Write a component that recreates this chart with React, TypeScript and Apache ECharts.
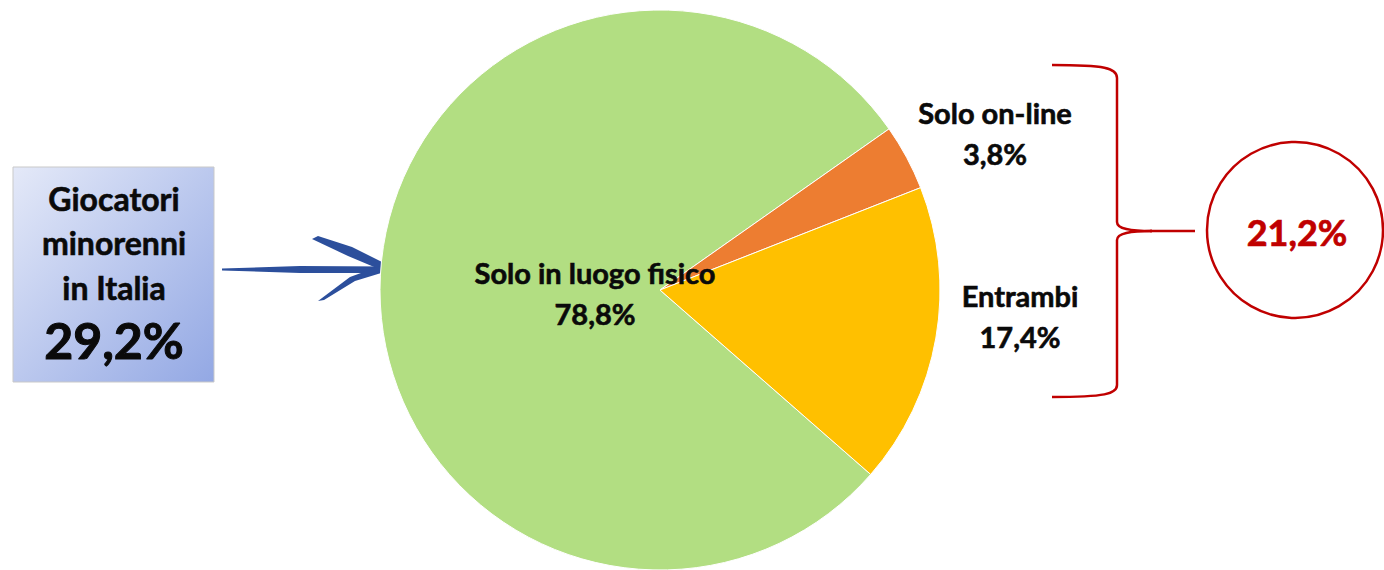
import React, { useEffect, useRef } from "react";
import * as echarts from "echarts";

// Data
const categories = ["Solo in luogo fisico", "Solo on-line", "Entrambi"];
const values = [78.8, 3.8, 17.4];
const sliceColors = ["#b2de82", "#ed7d31", "#ffc000"];
const boxLines = ["Giocatori", "minorenni", "in Italia"];
const boxValue = "29,2%";
const onlineTotal = "21,2%";

const FONT = "Lato, 'Open Sans', sans-serif";
// label block centres, one per category
const labelPos = [
  [595, 293],
  [995, 133],
  [1020, 316],
];

const fmt = (v: number) => v.toFixed(1).replace(".", ",") + "%";

export default function App() {
  const ref = useRef<HTMLDivElement>(null);
  useEffect(() => {
    document.body.style.margin = "0";
    const chart = echarts.init(ref.current!, null, { renderer: "svg" });
    const red = "#c00000";
    const blue = "#2c4f9c";
    const ink = "#0a0a0a";
    chart.setOption({
      animation: false,
      backgroundColor: "#ffffff",
      series: [
        {
          type: "pie",
          center: [660, 290],
          radius: 280,
          startAngle: -41.2,
          clockwise: true,
          avoidLabelOverlap: false,
          itemStyle: { borderColor: "#ffffff", borderWidth: 1 },
          label: {
            show: true,
            position: "inside",
            formatter: (p: any) => `{a|${p.name}}\n{a|${fmt(p.value)}}`,
            rich: {
              a: {
                fontFamily: FONT,
                fontWeight: "bold",
                fontSize: 29,
                lineHeight: 41,
                color: ink,
                textBorderColor: ink,
                textBorderWidth: 0.6,
                align: "center",
              },
            },
          },
          labelLine: { show: false },
          labelLayout: (params: any) => {
            const pos = labelPos[params.dataIndex];
            return { x: pos[0], y: pos[1], align: "center", verticalAlign: "middle" };
          },
          data: categories.map((c, i) => ({
            name: c,
            value: values[i],
            itemStyle: { color: sliceColors[i] },
          })),
        },
      ],
      graphic: [
        {
          type: "rect",
          shape: { x: 13, y: 167, width: 201, height: 215 },
          style: {
            fill: new echarts.graphic.LinearGradient(0, 0, 1, 1, [
              { offset: 0, color: "#e4e9f8" },
              { offset: 1, color: "#93a8e4" },
            ]),
            stroke: "#c9c9c9",
            lineWidth: 1,
          },
        },
        ...boxLines.map((t, i) => ({
          type: "text",
          x: 114,
          y: 198 + i * 44.5,
          style: {
            text: t,
            fontFamily: FONT,
            fontWeight: "bold",
            fontSize: 32,
            fill: ink,
            stroke: ink,
            lineWidth: 0.6,
            align: "center",
            verticalAlign: "middle",
          },
        })),
        {
          type: "text",
          x: 114,
          y: 340,
          style: {
            text: boxValue,
            fontFamily: FONT,
            fontWeight: "bold",
            fontSize: 50,
            fill: ink,
            stroke: ink,
            lineWidth: 1,
            align: "center",
            verticalAlign: "middle",
          },
        },
        // arrow
        {
          type: "polygon",
          shape: {
            points: [
              [222, 268.5],
              [300, 266],
              [388, 266.5],
              [388, 273],
              [300, 273],
              [222, 270.5],
            ],
          },
          style: { fill: blue },
        },
        {
          type: "polygon",
          shape: {
            points: [
              [312, 239],
              [318, 236],
              [352, 247],
              [392, 267],
              [386, 272],
              [348, 256],
            ],
          },
          style: { fill: blue },
        },
        {
          type: "polygon",
          shape: {
            points: [
              [318, 301],
              [324, 300],
              [355, 281],
              [391, 270],
              [380, 266],
              [350, 277],
            ],
          },
          style: { fill: blue },
        },
        // bracket
        {
          type: "bezierCurve",
          shape: { x1: 1052, y1: 65, cpx1: 1105, cpy1: 65, cpx2: 1117, cpy2: 68, x2: 1117, y2: 78 },
          style: { stroke: red, lineWidth: 2.5, fill: null },
        },
        {
          type: "line",
          shape: { x1: 1117, y1: 78, x2: 1117, y2: 222 },
          style: { stroke: red, lineWidth: 2.5 },
        },
        {
          type: "bezierCurve",
          shape: { x1: 1117, y1: 222, cpx1: 1117, cpy1: 229, cpx2: 1130, cpy2: 231, x2: 1152, y2: 231 },
          style: { stroke: red, lineWidth: 2.5, fill: null },
        },
        {
          type: "line",
          shape: { x1: 1150, y1: 231, x2: 1195, y2: 231 },
          style: { stroke: red, lineWidth: 2.5 },
        },
        {
          type: "bezierCurve",
          shape: { x1: 1152, y1: 231, cpx1: 1130, cpy1: 231, cpx2: 1117, cpy2: 233, x2: 1117, y2: 240 },
          style: { stroke: red, lineWidth: 2.5, fill: null },
        },
        {
          type: "line",
          shape: { x1: 1117, y1: 240, x2: 1117, y2: 385 },
          style: { stroke: red, lineWidth: 2.5 },
        },
        {
          type: "bezierCurve",
          shape: { x1: 1117, y1: 385, cpx1: 1117, cpy1: 394, cpx2: 1105, cpy2: 397, x2: 1052, y2: 397 },
          style: { stroke: red, lineWidth: 2.5, fill: null },
        },
        // circle
        {
          type: "circle",
          shape: { cx: 1295, cy: 230, r: 88 },
          style: { stroke: red, lineWidth: 2.5, fill: null },
        },
        {
          type: "text",
          x: 1297,
          y: 232,
          style: {
            text: onlineTotal,
            fontFamily: FONT,
            fontWeight: "bold",
            fontSize: 36,
            fill: red,
            stroke: red,
            lineWidth: 0.7,
            align: "center",
            verticalAlign: "middle",
          },
        },
      ],
    });
    return () => chart.dispose();
  }, []);
  return (
    <div
      ref={ref}
      style={{ position: "absolute", left: 0, top: 0, width: 1384, height: 570 }}
    />
  );
}
